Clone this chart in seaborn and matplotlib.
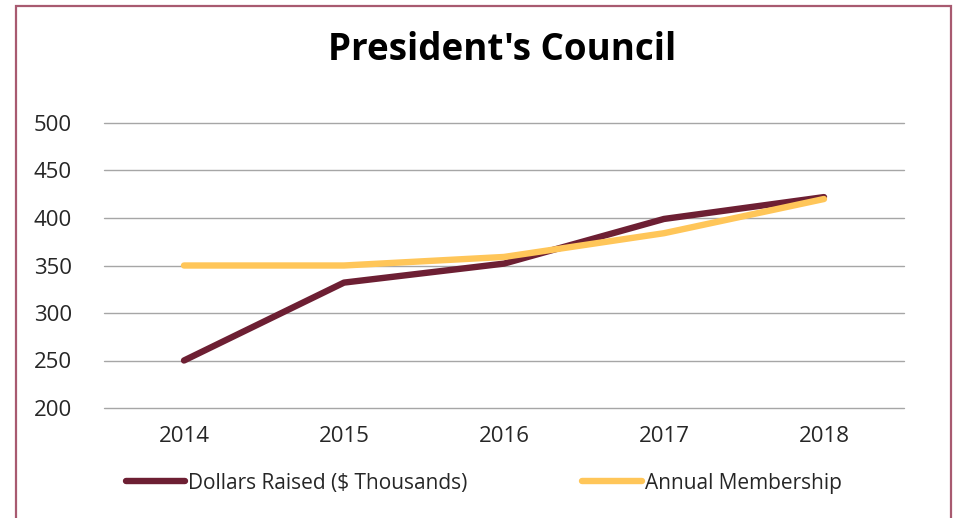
import matplotlib
matplotlib.use("Agg")
import matplotlib.pyplot as plt
import seaborn as sns
import pandas as pd
from matplotlib.patches import Rectangle
from matplotlib.lines import Line2D

years = ["2014", "2015", "2016", "2017", "2018"]
dollars_raised = [250, 332, 352, 399, 422]
annual_membership = [350, 350, 359, 384, 420]
series_names = ["Dollars Raised ($ Thousands)", "Annual Membership"]
colors = ["#6D1F33", "#FFC659"]
title = "President's Council"

sns.set_theme(style="white")
plt.rcParams["font.family"] = ["Open Sans", "DejaVu Sans"]

df = pd.DataFrame({
    "Year": years * 2,
    "Value": dollars_raised + annual_membership,
    "Series": [series_names[0]] * len(years) + [series_names[1]] * len(years),
})

W, H = 957, 518
fig = plt.figure(figsize=(W / 100, H / 100), dpi=100)
ax = fig.add_axes([104 / W, (H - 408) / H, 800 / W, 285 / H])

sns.lineplot(data=df, x="Year", y="Value", hue="Series", palette=colors,
             linewidth=4.6, ax=ax, sort=False, legend=False,
             solid_capstyle="round", solid_joinstyle="round")

ax.set_xlim(-0.5, len(years) - 0.5)
ax.set_ylim(200, 500)
ax.set_yticks([200, 250, 300, 350, 400, 450, 500])
ax.yaxis.grid(True, color="#A6A6A6", linewidth=1.0)
for gl in ax.yaxis.get_gridlines():
    gl.set_clip_on(False)
ax.set_axisbelow(True)
for s in ax.spines.values():
    s.set_visible(False)
ax.tick_params(axis="both", length=0, labelsize=16, labelcolor="#262626")
ax.tick_params(axis="y", pad=23)
ax.tick_params(axis="x", pad=13)
ax.set_xlabel("")
ax.set_ylabel("")

lines = ax.get_lines()
if len(lines) >= 2:
    lines[1].set_zorder(lines[0].get_zorder() + 1)

fig.text(502 / W, 1 - 50 / H, title, ha="center", va="center",
         fontsize=26.5, fontweight="bold", color="black")

handles = [Line2D([0], [0], color=c, lw=4.6, solid_capstyle="round") for c in colors]
fig.legend(handles, series_names, loc="center left", ncol=2,
           bbox_to_anchor=(107 / W, 1 - 483 / H), frameon=False,
           fontsize=15, handlelength=2.85, handletextpad=0.15,
           columnspacing=5.5, labelcolor="#262626")

fig.add_artist(Rectangle((16 / W, -0.05), (951 - 16) / W, (H - 6) / H + 0.05,
                         transform=fig.transFigure, fill=False,
                         edgecolor="#A85A70", linewidth=1.6))

fig.savefig("out.png", dpi=100)
